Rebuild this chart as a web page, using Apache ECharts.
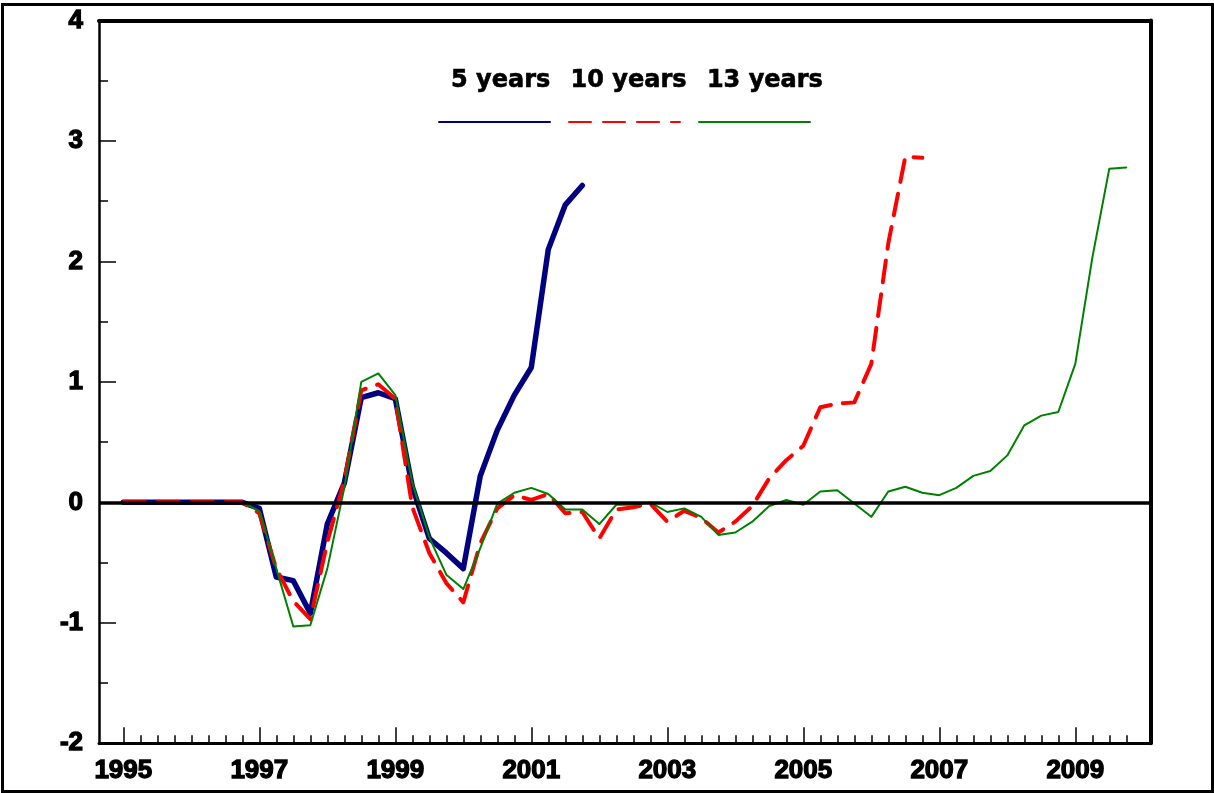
<!DOCTYPE html>
<html>
<head>
<meta charset="utf-8">
<script src="https://cdn.jsdelivr.net/npm/echarts@6/dist/echarts.min.js"></script>
<style>
html,body{margin:0;padding:0;background:#fff;}
#chart{position:absolute;left:0;top:0;width:1214px;height:793px;}
#frame{position:absolute;left:1px;top:3px;width:1213px;height:790px;border:3px solid #000;box-sizing:border-box;pointer-events:none;}
</style>
</head>
<body>
<div id="chart"></div>
<div id="frame"></div>
<script>
// ---- data ----
const years = [1995,1996,1997,1998,1999,2000,2001,2002,2003,2004,2005,2006,2007,2008,2009];
const quarters = ['Q1','Q2','Q3','Q4'];
const categories = years.flatMap(y => quarters.map(q => y + q));
const seriesNames = ['5 years', '10 years', '13 years'];
const yMin = -2, yMax = 4, yStep = 1;

const fiveYears = [0,0,0,0, 0,0,0,0,
  -0.05,-0.62,-0.65,-0.92, -0.18,0.16,0.87,0.91, 0.86,0.13,-0.30,-0.42,
  -0.55,0.22,0.60,0.89, 1.12,2.10,2.47,2.63];

const tenYears = [0,0,0,0, 0,0,0,0,
  -0.09,-0.55,-0.82,-0.97, -0.33,0.18,0.93,0.98, 0.86,-0.04,-0.42,-0.67,
  -0.83,-0.34,-0.05,0.06, 0.02,0.07,-0.09,-0.08, -0.30,-0.06,-0.04,-0.01,
  -0.16,-0.07,-0.13,-0.25, -0.16,-0.03,0.20,0.35, 0.47,0.79,0.82,0.83,
  1.15,2.15,2.87,2.86];

const thirteenYears = [0,0,0,0, 0,0,0,0,
  -0.07,-0.55,-1.03,-1.02, -0.55,0.12,1.00,1.07, 0.89,0.16,-0.29,-0.60,
  -0.72,-0.38,-0.01,0.08, 0.12,0.07,-0.06,-0.06, -0.18,-0.02,-0.02,0.00,
  -0.08,-0.05,-0.12,-0.27, -0.25,-0.16,-0.03,0.02, -0.02,0.09,0.10,-0.01,
  -0.12,0.09,0.13,0.08, 0.06,0.12,0.22,0.26, 0.39,0.64,0.72,0.75,
  1.15,2.03,2.77,2.78];

// ---- chart ----
const chart = echarts.init(document.getElementById('chart'), null, {renderer: 'canvas'});
const labelFont = {fontFamily: '"Liberation Sans", Arial, sans-serif', fontWeight: 'bold', fontSize: 26, color: '#000', textBorderColor: '#000', textBorderWidth: 1.3};
const frameGrid = {left: 99, top: 20.5, right: 63.7, bottom: 49.7, outerBoundsMode: 'none', containLabel: false};
const dataGrid = {left: 123.3, top: 20.5, right: 87.7, bottom: 49.7, outerBoundsMode: 'none', containLabel: false};
const hiddenY = gi => ({gridIndex: gi, type: 'value', min: yMin, max: yMax, interval: yStep, show: false});
const majorEvery = 8;

chart.setOption({
  animation: false,
  backgroundColor: '#fff',
  grid: [frameGrid, dataGrid, dataGrid],
  legend: [
    {
      data: seriesNames, left: 433, top: 112, itemWidth: 111, itemHeight: 10, itemGap: 17,
      formatter: () => '', selectedMode: false, itemStyle: {opacity: 0},
      textStyle: {fontSize: 1}
    },
    {
      data: seriesNames, left: 441, top: 63, itemWidth: 0, itemHeight: 14, itemGap: 15,
      icon: 'rect', selectedMode: false, itemStyle: {opacity: 0},
      textStyle: {fontFamily: '"DejaVu Sans", sans-serif', fontWeight: 'bold', fontSize: 24, color: '#000', textBorderColor: '#000', textBorderWidth: 0.6}
    }
  ],
  xAxis: [
    {gridIndex: 0, type: 'value', min: 0, max: 1, position: 'bottom',
     axisLine: {show: true, onZero: false, lineStyle: {color: '#000', width: 3}},
     axisTick: {show: false}, axisLabel: {show: false}, splitLine: {show: false}},
    {gridIndex: 0, type: 'value', min: 0, max: 1, position: 'top',
     axisLine: {show: true, onZero: false, lineStyle: {color: '#000', width: 4}},
     axisTick: {show: false}, axisLabel: {show: false}, splitLine: {show: false}},
    {gridIndex: 1, type: 'category', data: categories, boundaryGap: false, position: 'bottom',
     axisLine: {show: false, onZero: false},
     axisTick: {show: true, inside: true, length: 8, interval: 0, lineStyle: {color: '#000', width: 1.5}},
     axisLabel: {show: false}, splitLine: {show: false}},
    {gridIndex: 2, type: 'category', data: categories, boundaryGap: false, position: 'bottom',
     axisLine: {show: false, onZero: false},
     axisTick: {show: true, inside: true, length: 16, interval: (i) => i % majorEvery === 0, lineStyle: {color: '#000', width: 1.5}},
     axisLabel: Object.assign({show: true, interval: (i) => i % majorEvery === 0, formatter: v => v.slice(0, 4), margin: 15}, labelFont),
     splitLine: {show: false}}
  ],
  yAxis: [
    {gridIndex: 0, type: 'value', min: yMin, max: yMax, interval: yStep, position: 'left',
     axisLine: {show: true, onZero: false, lineStyle: {color: '#000', width: 2.5}},
     axisTick: {show: true, inside: true, length: 17, lineStyle: {color: '#000', width: 1.5}},
     minorTick: {show: true, splitNumber: 2, length: 9, lineStyle: {color: '#000', width: 1.5}},
     axisLabel: Object.assign({margin: 16}, labelFont),
     splitLine: {show: false}},
    {gridIndex: 0, type: 'value', min: yMin, max: yMax, interval: yStep, position: 'right',
     axisLine: {show: true, onZero: false, lineStyle: {color: '#000', width: 4}},
     axisTick: {show: false}, axisLabel: {show: false}, splitLine: {show: false}},
    hiddenY(1),
    hiddenY(2)
  ],
  series: [
    {
      name: 'zero', type: 'line', xAxisIndex: 0, yAxisIndex: 0, data: [], silent: true,
      markLine: {silent: true, symbol: 'none', label: {show: false}, z: 10,
        lineStyle: {color: '#000', width: 3.5, type: 'solid'}, data: [{yAxis: 0}]}
    },
    {
      name: seriesNames[0], type: 'line', xAxisIndex: 3, yAxisIndex: 3, data: fiveYears,
      symbol: 'none', showSymbol: false, z: 3,
      itemStyle: {color: '#000080'},
      lineStyle: {color: '#000080', width: 5.5, cap: 'round', join: 'round'}
    },
    {
      name: seriesNames[1], type: 'line', xAxisIndex: 3, yAxisIndex: 3, data: tenYears,
      symbol: 'none', showSymbol: false, z: 4,
      itemStyle: {color: '#ff0000'},
      lineStyle: {color: '#ff0000', width: 4, type: [22, 12], cap: 'round', join: 'round'}
    },
    {
      name: seriesNames[2], type: 'line', xAxisIndex: 3, yAxisIndex: 3, data: thirteenYears,
      symbol: 'none', showSymbol: false, z: 5,
      itemStyle: {color: '#008000'},
      lineStyle: {color: '#008000', width: 2, cap: 'round', join: 'round'}
    }
  ]
});
</script>
</body>
</html>
